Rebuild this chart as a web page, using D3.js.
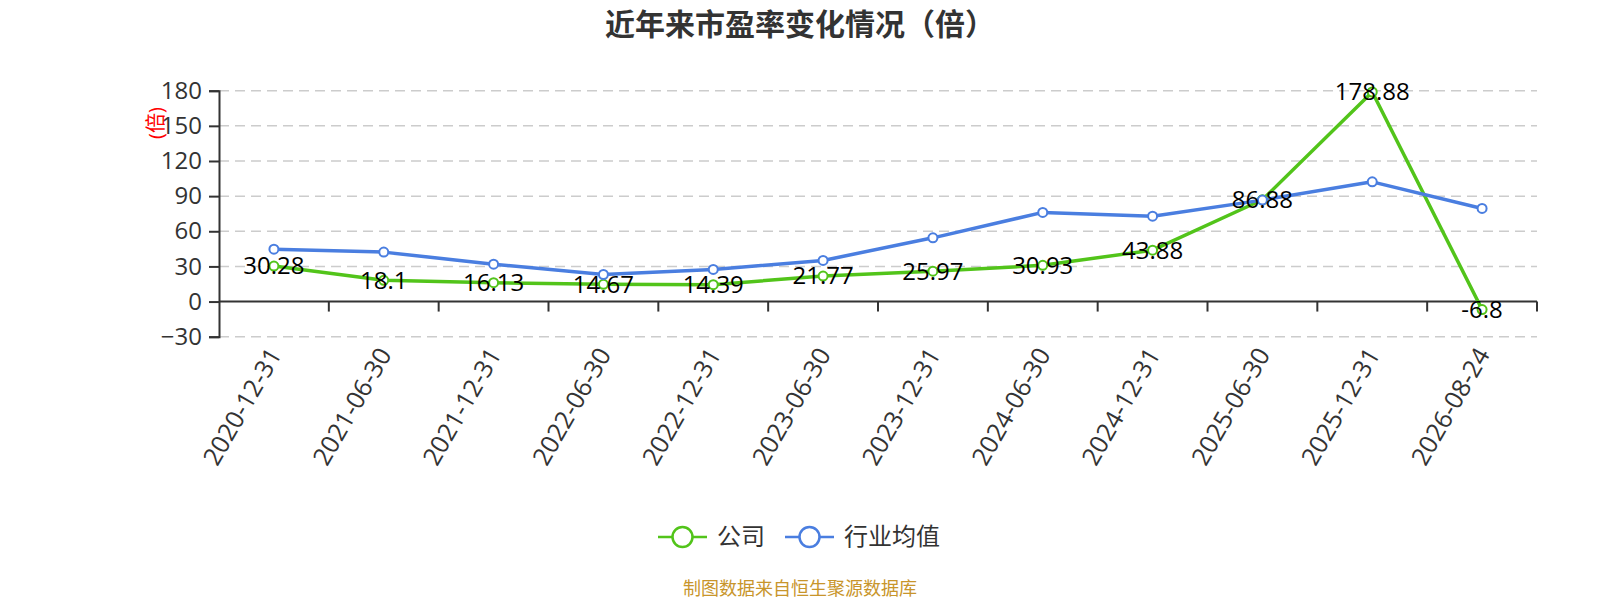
<!DOCTYPE html>
<html>
<head>
  <meta charset="utf-8">
  <title>近年来市盈率变化情况</title>
  <script type="text/javascript" src="https://cdn.jsdelivr.net/npm/d3@7"></script>
  <style type="text/css">
    body { margin: 0; background: #fff; }
    svg text { font-family: "Open Sans", "Noto Sans CJK SC", sans-serif; }
  </style>
</head>
<body>
  <div id="chart"></div>
  <script type="text/javascript">
    // data
    const dates = ["2020-12-31", "2021-06-30", "2021-12-31", "2022-06-30", "2022-12-31", "2023-06-30",
      "2023-12-31", "2024-06-30", "2024-12-31", "2025-06-30", "2025-12-31", "2026-08-24"];
    const company = [30.28, 18.1, 16.13, 14.67, 14.39, 21.77, 25.97, 30.93, 43.88, 86.88, 178.88, -6.8];
    const industry = [44.7, 42.2, 31.9, 23.1, 27.4, 35.1, 54.4, 76.1, 72.9, 86.6, 102.2, 79.5];
    const yTicks = [-30, 0, 30, 60, 90, 120, 150, 180];
    const seriesNames = ["公司", "行业均值"];

    const w = 1600, h = 600;
    const green = "#52c41a", blue = "#4a7ee0";

    const svg = d3.select("#chart").append("svg")
      .attr("width", w).attr("height", h);

    // title
    svg.append("text")
      .attr("x", 800).attr("y", 35)
      .attr("text-anchor", "middle")
      .attr("font-size", 30).attr("font-weight", "bold")
      .attr("fill", "#333")
      .style("font-family", "'Noto Sans CJK SC', sans-serif")
      .text("近年来市盈率变化情况（倍）");

    // scales
    const x = d3.scaleBand().domain(dates).range([219, 1537]);
    const y = d3.scaleLinear().domain([-30, 180]).range([336.7, 90.7]);
    const cx = d => x(d) + x.bandwidth() / 2;

    // grid
    svg.append("g").selectAll("line")
      .data(yTicks.filter(t => t !== 0))
      .enter().append("line")
      .attr("x1", 219).attr("x2", 1537)
      .attr("y1", d => y(d)).attr("y2", d => y(d))
      .attr("stroke", "#ccc").attr("stroke-width", 1.5)
      .attr("stroke-dasharray", "10,6");

    // y axis
    const yAxis = svg.append("g")
      .attr("transform", "translate(219,0)")
      .call(d3.axisLeft(y).tickValues(yTicks).tickSize(10).tickPadding(7));
    yAxis.select(".domain").attr("stroke", "#333").attr("stroke-width", 2);
    yAxis.selectAll(".tick line").attr("stroke", "#333").attr("stroke-width", 2);
    yAxis.selectAll("text").attr("font-size", 24).attr("fill", "#333")
      .style("font-family", "'Open Sans', sans-serif");

    // y unit label
    svg.append("text")
      .attr("transform", "translate(156,123) rotate(-90)")
      .attr("text-anchor", "middle").attr("dy", "0.35em")
      .attr("font-size", 20).attr("fill", "red")
      .text("(倍)");

    // x axis at zero
    const y0 = y(0);
    svg.append("line")
      .attr("x1", 219).attr("x2", 1537).attr("y1", y0).attr("y2", y0)
      .attr("stroke", "#333").attr("stroke-width", 2);
    const bounds = dates.map(d => x(d)).slice(1).concat([1537]);
    svg.append("g").selectAll("line")
      .data(bounds).enter().append("line")
      .attr("x1", d => d).attr("x2", d => d)
      .attr("y1", y0).attr("y2", y0 + 10)
      .attr("stroke", "#333").attr("stroke-width", 2);

    svg.append("g").selectAll("text")
      .data(dates).enter().append("text")
      .attr("transform", d => `translate(${cx(d) + 1},${350}) rotate(-60)`)
      .attr("text-anchor", "end").attr("dy", "0.35em")
      .attr("font-size", 25).attr("fill", "#333")
      .text(d => d);

    // lines
    const line = d3.line().x((d, i) => cx(dates[i])).y(d => y(d));
    const series = [
      { name: seriesNames[0], values: company, color: green },
      { name: seriesNames[1], values: industry, color: blue }
    ];

    series.forEach(s => {
      const g = svg.append("g");
      g.append("path")
        .attr("d", line(s.values))
        .attr("fill", "none").attr("stroke", s.color).attr("stroke-width", 3.5)
        .attr("stroke-linejoin", "round");
      g.selectAll("circle")
        .data(s.values).enter().append("circle")
        .attr("cx", (d, i) => cx(dates[i])).attr("cy", d => y(d))
        .attr("r", 4.5)
        .attr("fill", "#fff").attr("stroke", s.color).attr("stroke-width", 2);
    });

    // labels for company
    svg.append("g").selectAll("text")
      .data(company).enter().append("text")
      .attr("x", (d, i) => cx(dates[i])).attr("y", d => y(d))
      .attr("text-anchor", "middle").attr("dy", "0.35em")
      .attr("font-size", 24).attr("fill", "#000")
      .text(d => d);

    // legend
    const legend = svg.append("g").attr("transform", "translate(0,537)");
    let lx = 658;
    series.forEach(s => {
      const item = legend.append("g").attr("transform", `translate(${lx},0)`);
      item.append("line").attr("x1", 0).attr("x2", 49).attr("y1", 0).attr("y2", 0)
        .attr("stroke", s.color).attr("stroke-width", 2.5);
      item.append("circle").attr("cx", 24.5).attr("cy", 0).attr("r", 10)
        .attr("fill", "#fff").attr("stroke", s.color).attr("stroke-width", 2.5);
      const t = item.append("text").attr("x", 59).attr("dy", "0.35em")
        .attr("font-size", 24).attr("fill", "#333")
        .style("font-family", "'Noto Sans CJK SC', sans-serif")
        .text(s.name);
      lx += 59 + t.node().getComputedTextLength() + 20;
    });

    // source
    svg.append("text")
      .attr("x", 800).attr("y", 589).attr("dy", "0.35em")
      .attr("text-anchor", "middle")
      .attr("font-size", 18).attr("fill", "#c8952b")
      .style("font-family", "'Noto Sans CJK SC', sans-serif")
      .text("制图数据来自恒生聚源数据库");
  </script>
</body>
</html>
